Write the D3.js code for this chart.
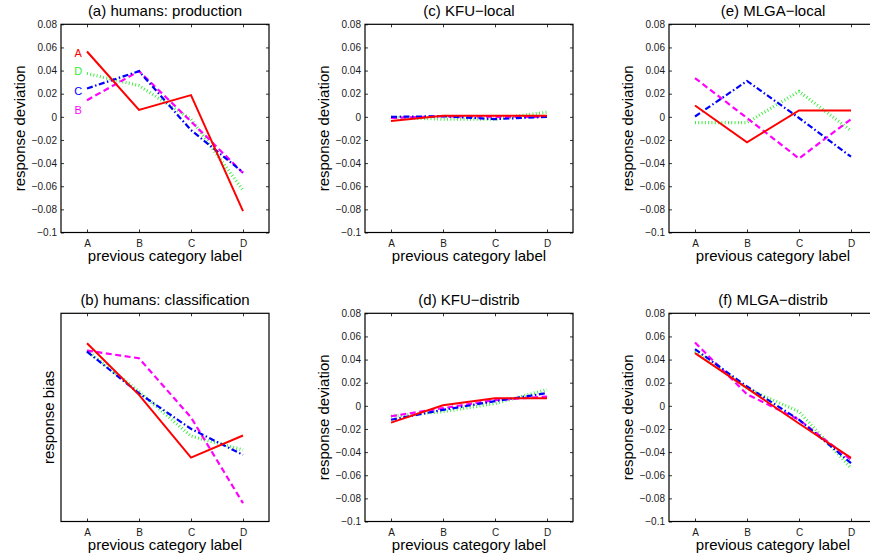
<!DOCTYPE html>
<html>
<head>
<meta charset="utf-8">
<script src="https://cdn.jsdelivr.net/npm/d3@7"></script>
<style>
  html, body { margin: 0; padding: 0; background: #fff; }
  svg text { font-family: "Liberation Sans", Arial, Helvetica, sans-serif; }
</style>
</head>
<body>
<div id="chart"></div>
<script>

// previous category (x axis) and current category (one line each)
const categories = ['A', 'B', 'C', 'D'];
const seriesNames = ['A', 'B', 'C', 'D'];

const yTicks = [0.08, 0.06, 0.04, 0.02, 0, -0.02, -0.04, -0.06, -0.08, -0.1];
const yTickLabels = ['0.08', '0.06', '0.04', '0.02', '0', '\u22120.02', '\u22120.04', '\u22120.06', '\u22120.08', '\u22120.1'];

// values per series, in seriesNames order (A, B, C, D)
const humansProduction = [
    [0.0565, 0.006, 0.0188, -0.0815],
    [0.0144, 0.0395, -0.004, -0.0485],
    [0.0245, 0.0395, -0.0115, -0.048],
    [0.0375, 0.027, -0.002, -0.0635]
];

// unitless bias (no y ticks in the original)
const humansClassification = [
    [0.856, 0.608, 0.307, 0.413],
    [0.821, 0.784, 0.50, 0.088],
    [0.816, 0.616, 0.445, 0.32],
    [0.82, 0.624, 0.41, 0.344]
];

const kfuLocal = [
    [-0.0035, 0.001, 0.001, 0.001],
    [-0.001, 0.0005, 0.0, 0.0],
    [0.0, 0.0005, -0.002, 0.0],
    [-0.0005, -0.002, -0.002, 0.004]
];

const kfuDistrib = [
    [-0.0145, 0.0005, 0.0065, 0.0065],
    [-0.009, -0.002, 0.005, 0.008],
    [-0.012, -0.0035, 0.004, 0.011],
    [-0.009, -0.005, 0.002, 0.014]
];

const mlgaLocal = [
    [0.0098, -0.022, 0.0055, 0.0055],
    [0.0335, -0.001, -0.036, -0.002],
    [0.0003, 0.031, -0.001, -0.0345],
    [-0.005, -0.005, 0.022, -0.012]
];

const mlgaDistrib = [
    [0.0455, 0.0153, -0.0153, -0.045],
    [0.0547, 0.010, -0.012, -0.0466],
    [0.049, 0.0167, -0.012, -0.0495],
    [0.047, 0.015, -0.005, -0.0538]
];

// line look per series (MATLAB style: '-', '--', '-.', ':')
const lineStyle = {
    A: { color: '#ff0000', width: 2, dash: null },
    B: { color: '#ff00ff', width: 2.2, dash: '6,3.5' },
    C: { color: '#0000ff', width: 2.2, dash: '6,2.5,1.5,2.5' },
    D: { color: '#33ee33', width: 3.2, dash: '0.9,2.4' }
};
const drawOrder = [3, 1, 2, 0];

const panels = [
    { title: '(a) humans: production', data: humansProduction, col: 0, row: 0, ylabel: 'response deviation', legend: true },
    { title: '(b) humans: classification', data: humansClassification, col: 0, row: 1, ylabel: 'response bias', noTicks: true },
    { title: '(c) KFU\u2212local', data: kfuLocal, col: 1, row: 0, ylabel: 'response deviation' },
    { title: '(d) KFU\u2212distrib', data: kfuDistrib, col: 1, row: 1, ylabel: 'response deviation' },
    { title: '(e) MLGA\u2212local', data: mlgaLocal, col: 2, row: 0, ylabel: 'response deviation' },
    { title: '(f) MLGA\u2212distrib', data: mlgaDistrib, col: 2, row: 1, ylabel: 'response deviation' }
];

const width = 870, height = 557;
const colLeft = [61, 365, 669];
const rowTop = [24.3, 313.3];
const pw = 208, ph = 208.2;

const svg = d3.select('#chart').append('svg')
    .attr('width', width)
    .attr('height', height);

panels.forEach( function( p ) {

    const g = svg.append('g')
        .attr('transform', 'translate(' + colLeft[p.col] + ',' + rowTop[p.row] + ')');

    const x = d3.scaleLinear().domain([0.5, 4.5]).range([0, pw]);
    const y = p.noTicks
        ? d3.scaleLinear().domain([0, 1]).range([ph, 0])
        : d3.scaleLinear().domain([-0.1, 0.08]).range([ph, 0]);

    // axes, ticks pointing inwards
    g.append('g').attr('transform', 'translate(0,' + ph + ')')
        .call(d3.axisBottom(x).tickValues([1, 2, 3, 4])
            .tickFormat(function( d ) { return categories[d - 1]; })
            .tickSizeInner(-3).tickSizeOuter(0).tickPadding(7));
    g.append('g')
        .call(d3.axisTop(x).tickValues([1, 2, 3, 4]).tickFormat('')
            .tickSizeInner(-3).tickSizeOuter(0));

    if ( !p.noTicks ) {
        g.append('g')
            .call(d3.axisLeft(y).tickValues(yTicks)
                .tickFormat(function( d, i ) { return yTickLabels[i]; })
                .tickSizeInner(-3).tickSizeOuter(0).tickPadding(4));
        g.append('g').attr('transform', 'translate(' + pw + ',0)')
            .call(d3.axisRight(y).tickValues(yTicks).tickFormat('')
                .tickSizeInner(-3).tickSizeOuter(0));
    }

    g.selectAll('.domain').remove();
    g.selectAll('.tick line').attr('stroke', '#000').attr('stroke-width', 0.8);
    g.selectAll('.tick text').attr('font-size', '10px').style('fill', '#1a1a1a');

    // data lines
    const line = d3.line()
        .x(function( d, i ) { return x(i + 1); })
        .y(function( d ) { return y(d); });

    drawOrder.forEach( function( s ) {
        const st = lineStyle[seriesNames[s]];
        g.append('path')
            .datum(p.data[s])
            .attr('d', line)
            .attr('fill', 'none')
            .attr('stroke', st.color)
            .attr('stroke-width', st.width)
            .attr('stroke-dasharray', st.dash)
            .attr('stroke-linejoin', 'miter');
    });

    // box
    g.append('rect')
        .attr('width', pw).attr('height', ph)
        .attr('fill', 'none')
        .attr('stroke', '#000')
        .attr('stroke-width', 1.2);

    // titles and labels
    g.append('text')
        .attr('x', pw / 2).attr('y', -8.3)
        .attr('text-anchor', 'middle')
        .attr('font-size', '15px')
        .style('fill', '#000')
        .text(p.title);

    g.append('text')
        .attr('x', pw / 2).attr('y', ph + 29)
        .attr('text-anchor', 'middle')
        .attr('font-size', '15px')
        .style('fill', '#000')
        .text('previous category label');

    g.append('text')
        .attr('transform', 'translate(' + (p.noTicks ? -7 : -36.3) + ',' + (ph / 2) + ') rotate(-90)')
        .attr('text-anchor', 'middle')
        .attr('font-size', '15px')
        .style('fill', '#000')
        .text(p.ylabel);

    // line labels at the start of each line
    if ( p.legend ) {
        const legendOrder = [0, 3, 2, 1];
        const legendY = [0.0555, 0.04, 0.022, 0.006];
        legendOrder.forEach( function( s, i ) {
            g.append('text')
                .attr('x', x(0.83)).attr('y', y(legendY[i]))
                .attr('dy', '0.36em')
                .attr('text-anchor', 'middle')
                .attr('font-size', '11px')
                .style('fill', lineStyle[seriesNames[s]].color)
                .text(seriesNames[s]);
        });
    }
});

</script>
</body>
</html>
